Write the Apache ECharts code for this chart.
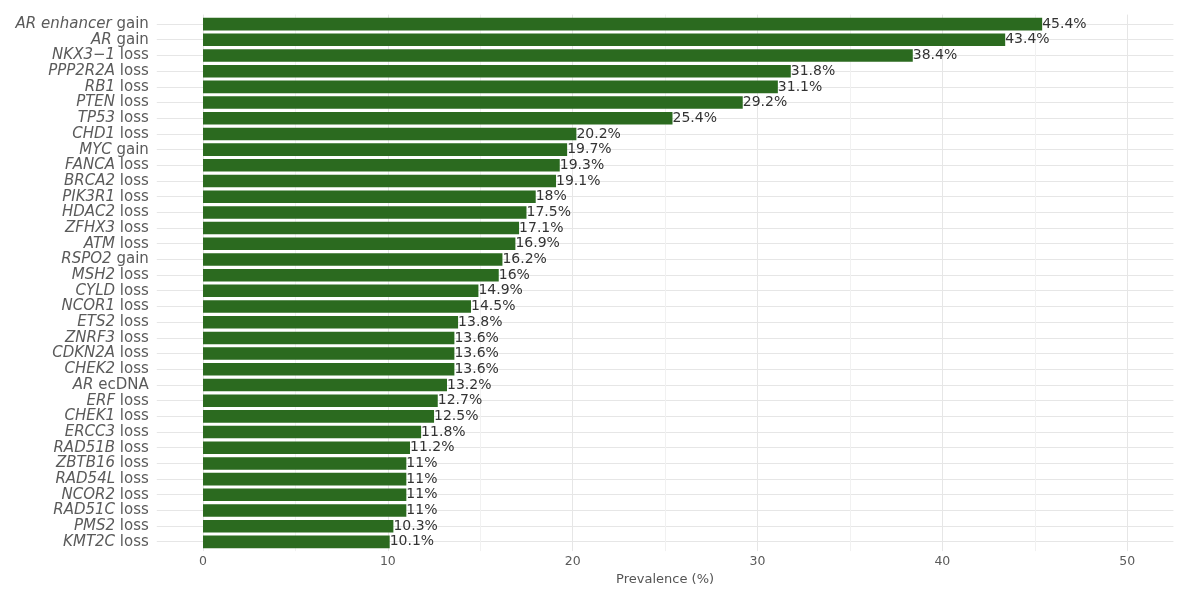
<!DOCTYPE html>
<html>
<head>
<meta charset="utf-8">
<script src="https://cdn.jsdelivr.net/npm/echarts@6/dist/echarts.min.js"></script>
<style>html,body{margin:0;padding:0;background:#fff}#c{width:1200px;height:591px}</style>
</head>
<body>
<div id="c"></div>
<script>
// Data (top to bottom)
const genes = ["AR enhancer","AR","NKX3\u22121","PPP2R2A","RB1","PTEN","TP53","CHD1","MYC","FANCA","BRCA2","PIK3R1","HDAC2","ZFHX3","ATM","RSPO2","MSH2","CYLD","NCOR1","ETS2","ZNRF3","CDKN2A","CHEK2","AR","ERF","CHEK1","ERCC3","RAD51B","ZBTB16","RAD54L","NCOR2","RAD51C","PMS2","KMT2C"];
const events = ["gain","gain","loss","loss","loss","loss","loss","loss","gain","loss","loss","loss","loss","loss","loss","gain","loss","loss","loss","loss","loss","loss","loss","ecDNA","loss","loss","loss","loss","loss","loss","loss","loss","loss","loss"];
const values = [45.4,43.4,38.4,31.8,31.1,29.2,25.4,20.2,19.7,19.3,19.1,18,17.5,17.1,16.9,16.2,16,14.9,14.5,13.8,13.6,13.6,13.6,13.2,12.7,12.5,11.8,11.2,11,11,11,11,10.3,10.1];
const xTicks = [0,10,20,30,40,50];

const categories = genes.map((g,i) => g + ' ' + events[i]);
const font = 'DejaVu Sans';

// helper axis for horizontal grid lines at category centres (ggplot-like 0.6 expansion)
const n = categories.length;
const steps = Math.round((n - 1 + 1.2) / 0.2); // 0.2-category resolution
const helperCats = [];
for (let i = 0; i <= steps; i++) helperCats.push(String(i));

const chart = echarts.init(document.getElementById('c'), null, {renderer: 'canvas'});
const gLeft = 156.8, gRight = 1200 - 1173.4;
chart.setOption({
  animation: false,
  backgroundColor: '#ffffff',
  grid: [
    {left: gLeft, right: gRight, top: 14.6, bottom: 591 - 551.4, containLabel: false},
    {left: gLeft, right: gRight, top: 16.3, bottom: 591 - 549.7, containLabel: false}
  ],
  xAxis: [
    {
      gridIndex: 0, type: 'value', min: -2.5, max: 52.5, interval: 2.5,
      axisLine: {show: false}, axisTick: {show: false},
      axisLabel: {
        margin: 4, color: '#5a5a5a', fontFamily: font, fontSize: 12.5,
        formatter: v => (xTicks.indexOf(Math.round(v * 10) / 10) >= 0 ? String(Math.round(v)) : '')
      },
      splitLine: {show: true, lineStyle: {color: ['rgba(0,0,0,0)', '#e6e6e6', 'rgba(0,0,0,0)', '#f1f1f1'], width: 1}},
      name: 'Prevalence (%)', nameLocation: 'middle', nameGap: 15,
      nameTextStyle: {color: '#555555', fontFamily: font, fontSize: 13}
    },
    {
      gridIndex: 1, type: 'value', min: -2.5, max: 52.5, interval: 2.5, show: false,
      splitLine: {show: false}
    }
  ],
  yAxis: [
    {
      gridIndex: 0, type: 'category', data: helperCats, boundaryGap: false,
      axisLine: {show: false}, axisTick: {show: false}, axisLabel: {show: false},
      splitLine: {show: true, interval: (idx) => idx % 5 === 3, lineStyle: {color: '#e6e6e6', width: 1}}
    },
    {
      gridIndex: 1, type: 'category', data: categories, inverse: true,
      axisLine: {show: false}, axisTick: {show: false}, splitLine: {show: false},
      axisLabel: {
        interval: 0, margin: 8, fontFamily: font, fontSize: 15, color: '#5a5a5a',
        formatter: (v, i) => '{g|' + genes[i] + '} {e|' + events[i] + '}',
        rich: {
          g: {fontStyle: 'italic', fontFamily: font, fontSize: 15, color: '#5a5a5a'},
          e: {fontFamily: font, fontSize: 15, color: '#5a5a5a'}
        }
      }
    }
  ],
  series: [{
    type: 'bar', xAxisIndex: 1, yAxisIndex: 1,
    data: values, barCategoryGap: '20%',
    itemStyle: {color: '#2b6a1f'},
    label: {
      show: true, position: 'right', distance: 0,
      fontFamily: font, fontSize: 14, color: '#333333',
      formatter: p => p.value + '%'
    }
  }]
});
</script>
</body>
</html>
